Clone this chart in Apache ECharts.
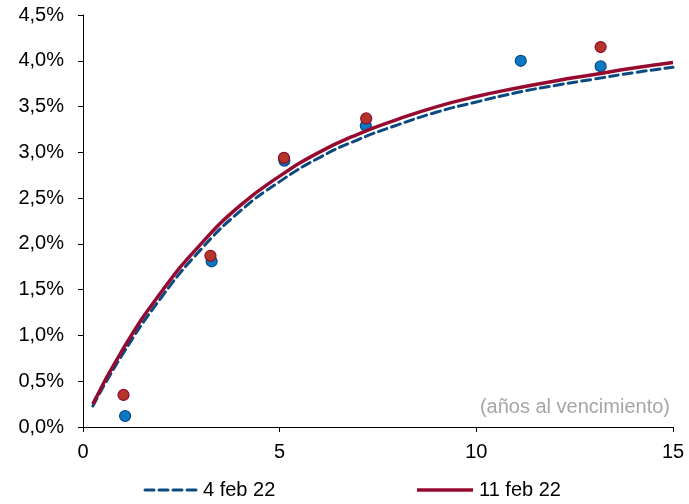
<!DOCTYPE html>
<html>
<head>
<meta charset="utf-8">
<script src="https://cdn.jsdelivr.net/npm/echarts@6/dist/echarts.min.js"></script>
<style>
html,body{margin:0;padding:0;background:#fff;}
#chart{width:689px;height:504px;}
</style>
</head>
<body>
<div id="chart"></div>
<script>
// Observed yields (scatter)
var obsMatBlue = [1.07, 3.27, 5.12, 7.19, 11.13, 13.16];
var obsYieldBlue = [0.12, 1.81, 2.91, 3.29, 4.00, 3.94];
var obsMatRed = [1.03, 3.24, 5.11, 7.20, 13.16];
var obsYieldRed = [0.35, 1.87, 2.94, 3.37, 4.15];

// Fitted curves
var curveMat = [0.25, 1, 2, 3, 4, 5, 6, 7, 8, 9, 10, 11, 12, 13, 14, 15];
var curveBlue = [0.23, 0.79, 1.42, 1.94, 2.36, 2.68, 2.94, 3.14, 3.30, 3.44, 3.55, 3.65, 3.73, 3.80, 3.87, 3.93];
var curveRed = [0.25, 0.84, 1.48, 2.00, 2.42, 2.74, 3.00, 3.20, 3.36, 3.50, 3.61, 3.70, 3.78, 3.85, 3.92, 3.98];

var seriesNames = ['4 feb 22', '11 feb 22'];
var axisNote = '(años al vencimiento)';

function pairs(xs, ys) { return xs.map(function (x, i) { return [x, ys[i]]; }); }

var FONT = 'Liberation Sans, Arial, sans-serif';
var BLUE_LINE = '#0B4A80', RED_LINE = '#950A2E';
var chart = echarts.init(document.getElementById('chart'));
chart.setOption({
  animation: false,
  backgroundColor: '#ffffff',
  grid: { left: 83, right: 16, top: 15, bottom: 77, containLabel: false },
  xAxis: {
    type: 'value', min: 0, max: 15, interval: 5,
    axisLine: { show: true, onZero: false, lineStyle: { color: '#000', width: 1 } },
    axisTick: { show: true, length: 5, lineStyle: { color: '#000' } },
    axisLabel: { color: '#000', fontSize: 20, fontFamily: FONT, margin: 15 },
    splitLine: { show: false }
  },
  yAxis: {
    type: 'value', min: 0, max: 4.5, interval: 0.5,
    axisLine: { show: true, lineStyle: { color: '#000', width: 1 } },
    axisTick: { show: true, length: 5, lineStyle: { color: '#000' } },
    axisLabel: {
      color: '#000', fontSize: 20, fontFamily: FONT, margin: 19,
      formatter: function (v) { return v.toFixed(1).replace('.', ',') + '%'; }
    },
    splitLine: { show: false }
  },
  graphic: [
    { type: 'text', right: 19, top: 397,
      style: { text: axisNote, fill: '#A6A6A6', fontSize: 20, fontFamily: FONT } },
    { type: 'line', shape: { x1: 145, y1: 490, x2: 198, y2: 490 },
      style: { stroke: BLUE_LINE, lineWidth: 3, lineDash: [9, 5], lineCap: 'round' } },
    { type: 'text', left: 203, top: 480,
      style: { text: seriesNames[0], fill: '#000', fontSize: 20, fontFamily: FONT } },
    { type: 'line', shape: { x1: 417, y1: 490, x2: 473, y2: 490 },
      style: { stroke: RED_LINE, lineWidth: 3.5 } },
    { type: 'text', left: 479, top: 480,
      style: { text: seriesNames[1], fill: '#000', fontSize: 20, fontFamily: FONT } }
  ],
  series: [
    {
      type: 'scatter', name: 'obs1', data: pairs(obsMatBlue, obsYieldBlue),
      symbolSize: 11,
      itemStyle: { color: '#0A78C2', borderColor: '#0B4A80', borderWidth: 1.2, opacity: 1 }
    },
    {
      type: 'scatter', name: 'obs2', data: pairs(obsMatRed, obsYieldRed),
      symbolSize: 11,
      itemStyle: { color: '#B5342A', borderColor: '#8E0B2C', borderWidth: 1.2, opacity: 1 }
    },
    {
      type: 'line', name: seriesNames[0], data: pairs(curveMat, curveBlue),
      smooth: 0.5, showSymbol: false, symbol: 'none',
      lineStyle: { color: BLUE_LINE, width: 3, type: [9, 5], cap: 'round' }
    },
    {
      type: 'line', name: seriesNames[1], data: pairs(curveMat, curveRed),
      smooth: 0.5, showSymbol: false, symbol: 'none',
      lineStyle: { color: RED_LINE, width: 3.5 }
    }
  ]
});
</script>
</body>
</html>
